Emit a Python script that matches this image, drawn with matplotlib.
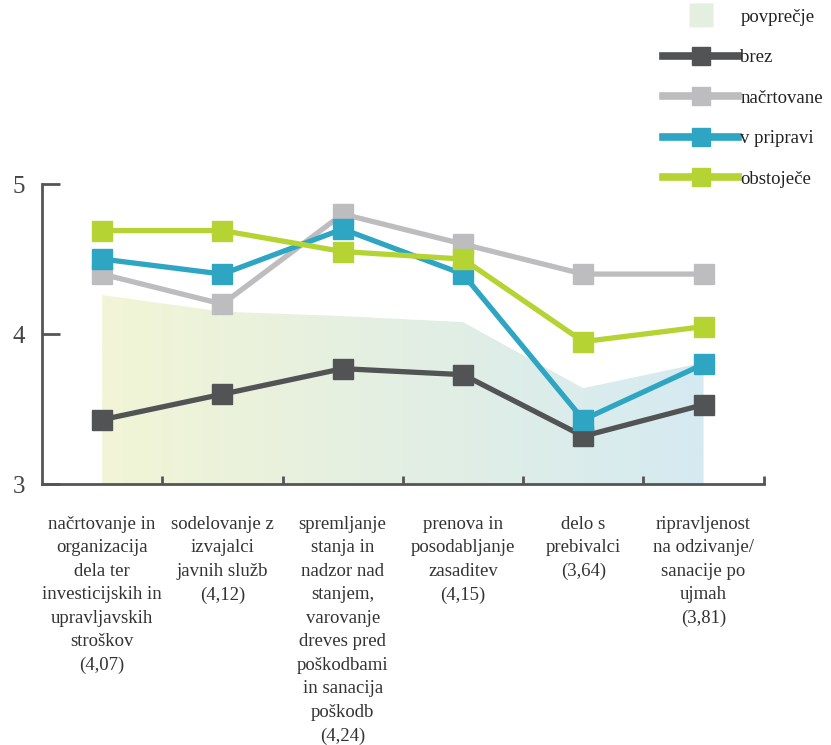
import numpy as np
import matplotlib.pyplot as plt
from matplotlib.colors import LinearSegmentedColormap
from matplotlib.lines import Line2D

# categories (labels as printed, with their average in brackets)
categories = [
    'načrtovanje in\norganizacija\ndela ter\ninvesticijskih in\nupravljavskih\nstroškov\n(4,07)',
    'sodelovanje z\nizvajalci\njavnih služb\n(4,12)',
    'spremljanje\nstanja in\nnadzor nad\nstanjem,\nvarovanje\ndreves pred\npoškodbami\nin sanacija\npoškodb\n(4,24)',
    'prenova in\nposodabljanje\nzasaditev\n(4,15)',
    'delo s\nprebivalci\n(3,64)',
    'ripravljenost\nna odzivanje/\nsanacije po\nujmah\n(3,81)',
]

# shaded average area as drawn
povprecje = [4.26, 4.15, 4.12, 4.08, 3.64, 3.81]

brez = [3.43, 3.60, 3.77, 3.73, 3.32, 3.53]
nacrtovane = [4.40, 4.20, 4.80, 4.60, 4.40, 4.40]
v_pripravi = [4.50, 4.40, 4.70, 4.40, 3.43, 3.80]
obstojece = [4.69, 4.69, 4.55, 4.50, 3.95, 4.05]

series_names = ['brez', 'načrtovane', 'v pripravi', 'obstoječe']
series_values = [brez, nacrtovane, v_pripravi, obstojece]
series_colors = ['#525354', '#bdbdc0', '#2ea6c3', '#b6d334']

axis_col = '#555555'
serif = ['Liberation Serif', 'DejaVu Serif']

fig = plt.figure(figsize=(8.31, 7.45), dpi=100)
ax = fig.add_axes([0.0505, 0.350, 0.8685, 0.403])

x = np.arange(len(categories)) + 0.5

# gradient filled average area
grad = LinearSegmentedColormap.from_list('avg', ['#f2f5d6', '#e3efe3', '#d5eaf1'])
poly = ax.fill_between(x, 3, povprecje, color='none', lw=0)
img = ax.imshow(np.linspace(0, 1, 256).reshape(1, -1), cmap=grad, aspect='auto',
                extent=[x[0], x[-1], 3, 5], zorder=1)
img.set_clip_path(poly.get_paths()[0], transform=ax.transData)

for name, vals, col in zip(series_names, series_values, series_colors):
    ax.plot(x, vals, color=col, lw=3.8, marker='s', ms=15, zorder=3,
            solid_joinstyle='miter')

ax.set_xlim(0, 6)
ax.set_ylim(3, 5)

for s in ['top', 'right']:
    ax.spines[s].set_visible(False)
for s in ['left', 'bottom']:
    ax.spines[s].set_color(axis_col)
    ax.spines[s].set_linewidth(2)

ax.set_yticks([3, 4, 5])
ax.set_yticklabels(['3', '4', '5'], fontsize=18, family=serif, color='#444444')
ax.tick_params(axis='y', direction='in', length=13, width=2, color=axis_col, pad=12)

ax.set_xticks(np.arange(1, 7))
ax.set_xticklabels([])
ax.tick_params(axis='x', direction='in', length=6, width=2, color=axis_col)

for xi, lab in zip(x, categories):
    ax.text(xi, -0.105, lab, transform=ax.get_xaxis_transform(), ha='center', va='top',
            fontsize=13.5, family=serif, color='#333333', linespacing=1.5)

# legend
handles = [Line2D([0], [0], color='none', marker='s', ms=17,
                  markerfacecolor='#e4efe2', markeredgecolor='none')]
for col in series_colors:
    handles.append(Line2D([0], [0], color=col, lw=5.5, marker='s', ms=13))
labels = ['povprečje'] + series_names
leg = fig.legend(handles, labels, loc='upper left', bbox_to_anchor=(0.778, 1.011),
                 frameon=False, handlelength=4.0, labelspacing=1.25,
                 handletextpad=0.1, prop={'family': serif, 'size': 13.5})
for t in leg.get_texts():
    t.set_color('#222222')

fig.savefig('out.png', dpi=100)
